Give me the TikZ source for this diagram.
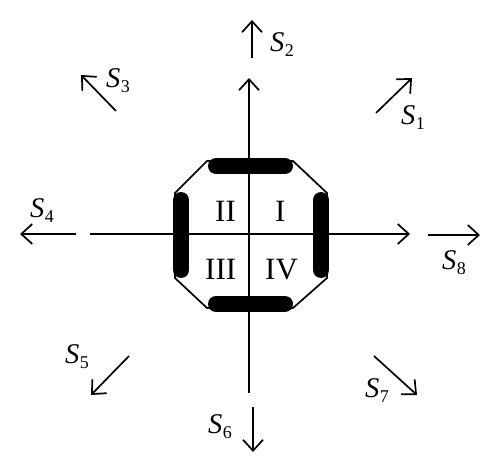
\documentclass[tikz,border=0pt]{standalone}
\usepackage{fontspec}
\setmainfont{Liberation Serif}
\usetikzlibrary{arrows.meta}
\newcommand{\Sdir}[1]{\textit{S}\kern0.5pt\raisebox{-5pt}{\fontsize{18}{18}\selectfont #1}}
\begin{document}
\begin{tikzpicture}[x=1pt,y=-1pt,
  thinline/.style={line width=1.7pt},
  arr/.style={thinline,-{Straight Barb[length=11pt,width=20pt,line width=1.7pt]}},
  bar/.style={line width=16pt,line cap=round},
  lab/.style={font=\fontsize{28.5}{32}\selectfont,inner sep=0pt,anchor=base west},
  quad/.style={font=\fontsize{31}{34}\selectfont,inner sep=0pt,anchor=base west}]
\useasboundingbox (0,0) rectangle (500,473);
% octagon
\draw[thinline] (207,161) -- (293,161) -- (327,193) -- (327,278) -- (293,308) -- (207,308) -- (175,278) -- (175,193) -- cycle;
% axes
\coordinate (vt) at (249,78);
\coordinate (vb) at (249,393);
\coordinate (hl) at (90,234);
\coordinate (hr) at (410,234);
\draw[arr] (vb) -- (vt);
\draw[arr] (hl) -- (hr);
% bars
\draw[bar] (216,166) -- (285,166);
\draw[bar] (216,304) -- (285,304);
\draw[bar] (181,200) -- (181,270);
\draw[bar] (321,200) -- (321,270);
% quadrant labels
\node[quad] (q1) at (275,221) {I};
\node[quad] (q2) at (215,221) {II};
\node[quad] (q3) at (205,279) {III};
\node[quad] (q4) at (265,279) {IV};
% direction arrows
\coordinate (a1s) at (376,113); \coordinate (a1e) at (412,78);
\coordinate (a2s) at (252,58);  \coordinate (a2e) at (252,20);
\coordinate (a3s) at (116,111); \coordinate (a3e) at (81,75);
\coordinate (a4s) at (76,234);  \coordinate (a4e) at (20,234);
\coordinate (a5s) at (129,356); \coordinate (a5e) at (91,395);
\coordinate (a6s) at (253,407); \coordinate (a6e) at (253,452);
\coordinate (a7s) at (374,356); \coordinate (a7e) at (417,395);
\coordinate (a8s) at (428,235); \coordinate (a8e) at (480,235);
\foreach \i in {1,...,8} \draw[arr] (a\i s) -- (a\i e);
% labels
\node[lab] (s1) at (401,125) {\Sdir{1}};
\node[lab] (s2) at (270,52) {\Sdir{2}};
\node[lab] (s3) at (106,88) {\Sdir{3}};
\node[lab] (s4) at (30,217) {\Sdir{4}};
\node[lab] (s5) at (65,363) {\Sdir{5}};
\node[lab] (s6) at (208,433) {\Sdir{6}};
\node[lab] (s7) at (365,397) {\Sdir{7}};
\node[lab] (s8) at (442,269) {\Sdir{8}};
\end{tikzpicture}
\end{document}
